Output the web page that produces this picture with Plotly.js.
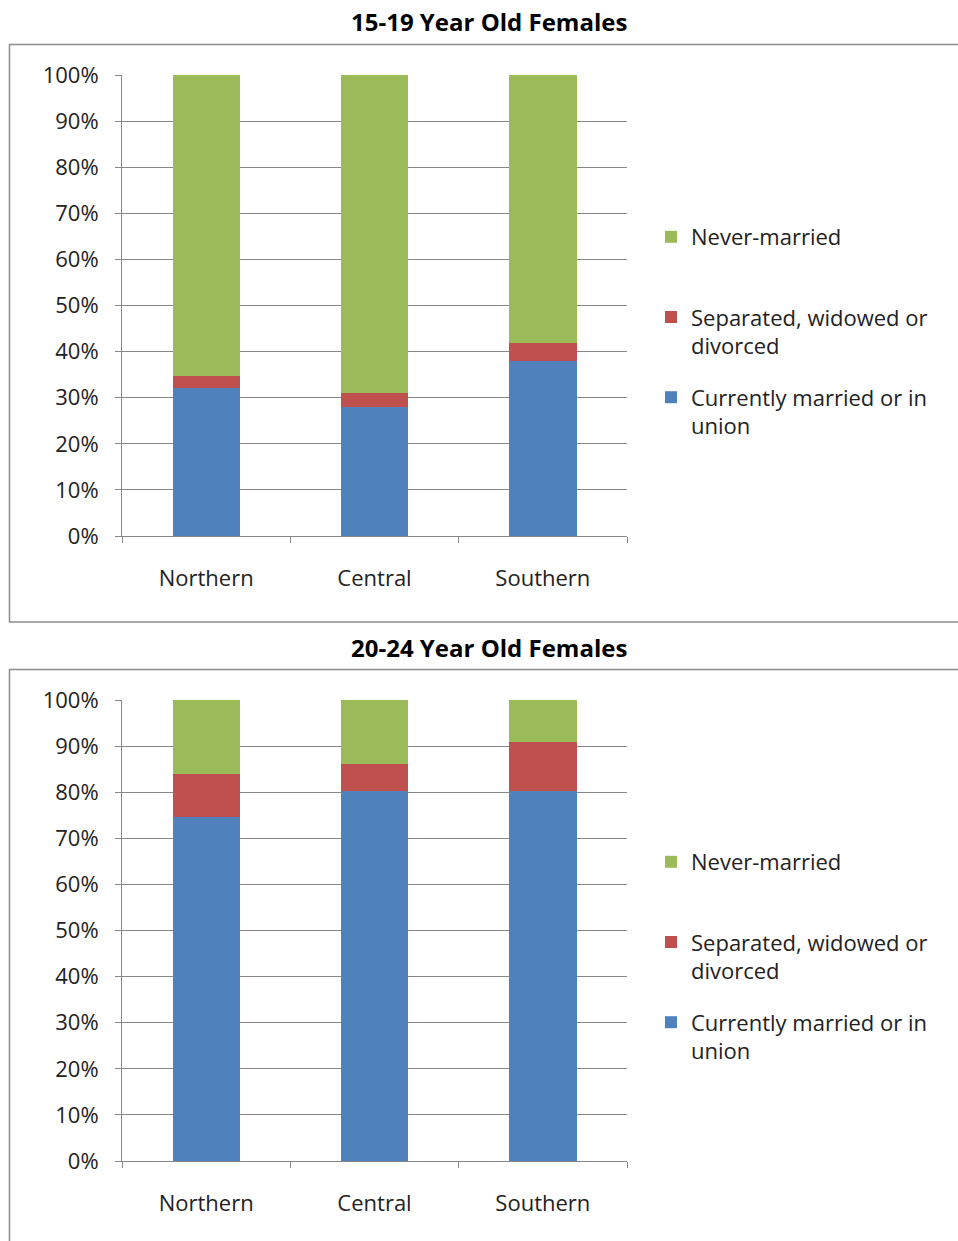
<!DOCTYPE html>
<html>
<head>
<meta charset="utf-8">
<script src="https://cdn.plot.ly/plotly-3.0.1.min.js"></script>
<style>html,body{margin:0;padding:0;background:#fff;}#chart{width:958px;height:1241px;}</style>
</head>
<body>
<div id="chart"></div>
<script>
// Data
const regions = ["Northern", "Central", "Southern"];
const seriesNames = ["Currently married or in<br>union", "Separated, widowed or<br>divorced", "Never-married<br><span style='color:rgba(0,0,0,0)'>.</span>"];
const colors = ["#4F81BD", "#C0504D", "#9BBB59"];
// 15-19 year old females (%)
const married1519 = [32.2, 28.0, 38.0];
const separated1519 = [2.5, 3.1, 3.9];
const never1519 = [65.3, 68.9, 58.1];
// 20-24 year old females (%)
const married2024 = [74.7, 80.3, 80.3];
const separated2024 = [9.2, 5.9, 10.6];
const never2024 = [16.1, 13.8, 9.1];
const titles = ["15-19 Year Old Females", "20-24 Year Old Females"];

const W = 958, H = 1241;
const FONT = "Open Sans, sans-serif";
const gray = "#878787";

function mk(vals, i, xa, ya, leg) {
  return {type: "bar", x: regions, y: vals, name: seriesNames[i], xaxis: xa, yaxis: ya,
    legend: leg, legendgroup: leg + "g" + i, legendrank: 10 - i,
    marker: {color: colors[i]}, hoverinfo: "skip"};
}
const data = [
  mk(married1519, 0, "x", "y", "legend"),
  mk(separated1519, 1, "x", "y", "legend"),
  mk(never1519, 2, "x", "y", "legend"),
  mk(married2024, 0, "x2", "y2", "legend2"),
  mk(separated2024, 1, "x2", "y2", "legend2"),
  mk(never2024, 2, "x2", "y2", "legend2")
];

function px(x) { return x / W; }
function py(y) { return 1 - y / H; }

function xax(anchor) {
  return {domain: [px(122), px(627)], anchor: anchor, showline: true, linecolor: gray, linewidth: 1,
    ticks: "outside", tickson: "boundaries", ticklen: 6, tickcolor: gray, showgrid: false,
    tickfont: {family: FONT, size: 22, color: "#222"}, ticklabelstandoff: 23, fixedrange: true};
}
function yax(anchor, top, bottom) {
  return {domain: [py(bottom), py(top)], anchor: anchor, range: [0, 100], dtick: 10, ticksuffix: "%",
    showline: true, linecolor: gray, linewidth: 1, ticks: "outside", ticklen: 6, tickcolor: gray,
    showgrid: true, gridcolor: gray, gridwidth: 1, zeroline: false,
    tickfont: {family: FONT, size: 22, color: "#222"}, ticklabelstandoff: 12, fixedrange: true};
}
function leg(ytop) {
  return {x: px(651), xanchor: "left", y: py(ytop), yanchor: "top", traceorder: "grouped",
    tracegroupgap: 20, valign: "top", font: {family: FONT, size: 22, color: "#222"},
    bgcolor: "rgba(0,0,0,0)"};
}

const layout = {
  width: W, height: H, margin: {l: 0, r: 0, t: 0, b: 0},
  paper_bgcolor: "#fff", plot_bgcolor: "#fff",
  barmode: "stack", bargap: 0.6, showlegend: true,
  xaxis: xax("y"), yaxis: yax("x", 75, 536),
  xaxis2: xax("y2"), yaxis2: yax("x2", 700, 1161),
  legend: leg(216), legend2: leg(841),
  annotations: [
    {text: "<b>" + titles[0] + "</b>", xref: "paper", yref: "paper", x: px(489), y: py(22),
      xanchor: "center", yanchor: "middle", showarrow: false, font: {family: FONT, size: 24, color: "#000"}},
    {text: "<b>" + titles[1] + "</b>", xref: "paper", yref: "paper", x: px(489), y: py(647),
      xanchor: "center", yanchor: "middle", showarrow: false, font: {family: FONT, size: 24, color: "#000"}}
  ],
  shapes: [
    {type: "rect", xref: "paper", yref: "paper", x0: px(9.5), x1: px(970), y0: py(622), y1: py(44.5),
      line: {color: "#8c8c8c", width: 1.5}, layer: "below"},
    {type: "rect", xref: "paper", yref: "paper", x0: px(9.5), x1: px(970), y0: py(1260), y1: py(669.5),
      line: {color: "#8c8c8c", width: 1.5}, layer: "below"}
  ]
};

Plotly.newPlot("chart", data, layout, {staticPlot: true, displayModeBar: false});
</script>
</body>
</html>
